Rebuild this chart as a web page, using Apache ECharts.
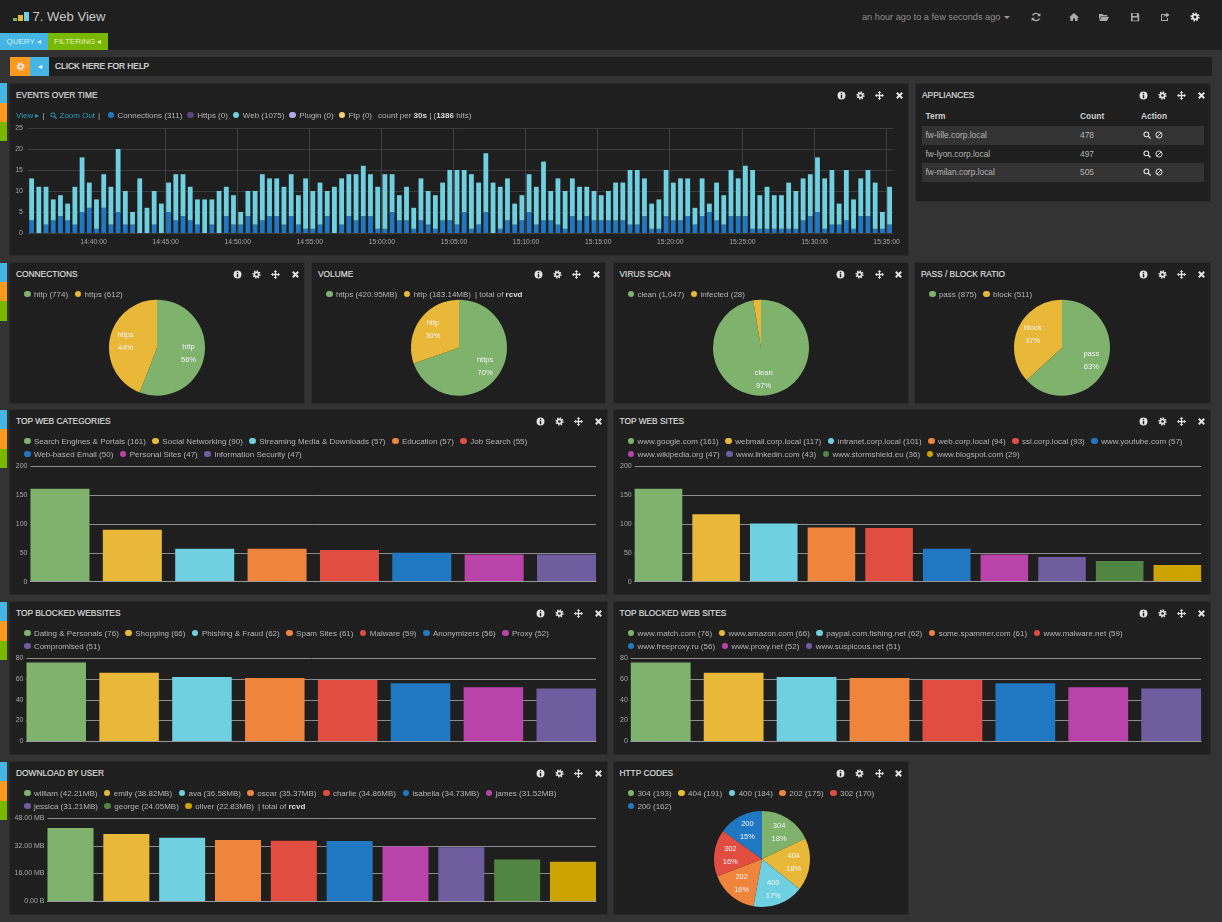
<!DOCTYPE html>
<html>
<head>
<meta charset="utf-8">
<title>7. Web View</title>
<script src="https://cdn.jsdelivr.net/npm/echarts@6/dist/echarts.min.js"></script>
<style>
html, body { margin: 0; padding: 0; width: 1222px; height: 922px; overflow: hidden; background: #333; }
body { font-family: "Liberation Sans", Arial, sans-serif; color: #b4b4b4; font-size: 8px; position: relative; }
.abs { position: absolute; }
.panel { position: absolute; background: #1f1f1f; box-shadow: 0 0 0 1px #2b2b2b; }
.panel-title { position: absolute; left: 6px; top: 6px; line-height: 11px; font-size: 8.35px; color: #d8d8d8; -webkit-text-stroke: .2px #d8d8d8; white-space: nowrap; }
.panel-icons svg { position: absolute; top: 7px; width: 9px; height: 9px; }
.chart { position: absolute; left: 0; top: 0; right: 0; bottom: 0; }
.legend { position: absolute; left: 14px; right: 4px; top: 24.5px; display: flex; flex-wrap: wrap; line-height: 13px; white-space: nowrap; z-index: 2; }
.legend .item { margin-right: 6.5px; display: flex; align-items: center; }
.legend .suffix { margin-left: -2.5px; }
.legend i { display: inline-block; width: 6.5px; height: 6.5px; border-radius: 50%; margin-right: 3.4px; }
.legend b { color: #ddd; }
.row { position: absolute; left: 6px; width: 282px; height: 18.5px; line-height: 18.5px; font-size: 8.4px; }
.row span { position: absolute; top: 0; }
.row svg { position: absolute; top: 5px; width: 8px; height: 8px; }
.tab { position: absolute; width: 6.5px; height: 19.3px; left: 0; }
.nav-icon { position: absolute; top: 12px; width: 10px; height: 10px; }
</style>
</head>
<body>
<div class="abs" style="left:0;top:0;width:1222px;height:50px;background:#1f1f1f"></div>
<svg class="abs" style="left:13px;top:11px" width="17" height="11">
  <rect x="0" y="7" width="4" height="3" fill="#7eb26d"/>
  <rect x="5" y="4" width="5" height="6" fill="#eab839"/>
  <rect x="11" y="1" width="5" height="9" fill="#6ed0e0"/>
</svg>
<div class="abs" style="left:32.5px;top:9px;font-size:13.1px;line-height:16px;color:#c8c8c8">7. Web View</div>
<div class="abs" style="left:862px;top:11px;font-size:9.2px;line-height:13px;color:#8e8e8e;white-space:nowrap">an hour ago to a few seconds ago</div>
<svg class="abs" style="left:1004px;top:16px" width="6" height="3"><path d="M0 0H6L3 3Z" fill="#9a9a9a"/></svg>
<div id="navIcons"></div>
<div class="abs" style="left:0;top:32.5px;width:47.5px;height:17.5px;background:#45b5e3;color:#d4eef8;line-height:18px;font-size:8px"><span style="margin-left:6.5px">QUERY &#9666;</span></div>
<div class="abs" style="left:47.5px;top:32.5px;width:60px;height:17.5px;background:#7ab800;color:#e4f2c8;line-height:18px;font-size:8px"><span style="margin-left:6.5px">FILTERING &#9666;</span></div>

<div class="abs" style="left:10px;top:56.5px;width:1202px;height:19.5px;background:#1f1f1f"></div>
<div class="abs" id="helpGear" style="left:10px;top:56.5px;width:20px;height:19.5px;background:#ff9a1f"></div>
<div class="abs" style="left:30px;top:56.5px;width:19px;height:19.5px;background:#45b5e3;color:#fff;text-align:center;line-height:19px;font-size:8px">&#9666;</div>
<div class="abs" style="left:55px;top:61px;font-size:8.35px;-webkit-text-stroke:.2px #e0e0e0;line-height:11px;color:#e0e0e0">CLICK HERE FOR HELP</div>
<div id="page"></div>

<script>
// 颜色
var palette = ['#7EB26D', '#EAB839', '#6ED0E0', '#EF843C', '#E24D42', '#1F78C1', '#BA43A9', '#705DA0', '#508642', '#CCA300']

// 事件直方图
var eventSeriesNames = ['Connections', 'Https', 'Web', 'Plugin', 'Ftp']
var eventSeriesCounts = [311, 0, 1075, 0, 0]
var eventSeriesColors = ['#1F78C1', '#584477', '#6ED0E0', '#B7A6E3', '#F9D372']
var eventTickLabels = ['14:40:00', '14:45:00', '14:50:00', '14:55:00', '15:00:00', '15:05:00', '15:10:00', '15:15:00', '15:20:00', '15:25:00', '15:30:00', '15:35:00']
var eventConnections = [
    3, 0, 2, 3, 4, 3, 2, 5, 6, 1, 6, 2, 5, 2, 2, 0, 0, 2, 0, 5, 3, 4, 3, 2, 0, 2, 0, 4, 2, 2, 4, 2, 3, 4, 4, 2, 4, 2, 1,
    1, 2, 4, 0, 2, 4, 3, 4, 4, 1, 1, 5, 3, 3, 1, 3, 2, 1, 3, 3, 2, 5, 1, 2, 5, 0, 1, 3, 2, 3, 5, 2, 3, 3, 2, 1, 4, 3, 4, 3, 3, 3,
    3, 3, 2, 2, 4, 1, 1, 4, 3, 3, 4, 2, 4, 5, 3, 2, 4, 4, 4, 1, 1, 1, 1, 1, 1, 1, 3, 4, 5, 1, 2, 2, 3, 1, 4, 4, 1, 1, 2
]
var eventWeb = [
    10, 11, 9, 5, 5, 4, 9, 13, 6, 7, 8, 9, 15, 8, 3, 13, 6, 8, 7, 7, 11, 10, 8, 6, 8, 6, 10, 7, 7, 3, 6, 8, 11, 9, 9, 9, 10, 7, 12,
    9, 10, 6, 11, 11, 10, 11, 12, 10, 10, 13, 9, 6, 8, 5, 10, 8, 8, 9, 12, 13, 10, 13, 10, 14, 12, 10, 10, 5, 6, 9, 9, 14, 7, 11, 9, 9, 8, 7, 7, 6, 7,
    9, 9, 13, 13, 9, 6, 7, 11, 9, 10, 9, 4, 9, 2, 9, 7, 11, 9, 12, 14, 8, 10, 8, 8, 11, 9, 10, 10, 13, 12, 13, 5, 12, 7, 9, 11, 11, 4, 9
]

// 设备表
var applianceTerms = ['fw-lille.corp.local', 'fw-lyon.corp.local', 'fw-milan.corp.local']
var applianceCounts = [478, 497, 505]

// 饼图
var connectionNames = ['http', 'https']
var connectionCounts = [774, 612]
var volumeNames = ['https', 'http']
var volumeMB = [420.95, 183.14]
var virusNames = ['clean', 'infected']
var virusCounts = [1047, 28]
var passNames = ['pass', 'block']
var passCounts = [875, 511]
var httpCodeNames = ['304', '404', '400', '202', '302', '200']
var httpCodeCounts = [193, 191, 184, 175, 170, 162]

// 柱状图
var webCategoryNames = ['Search Engines & Portals', 'Social Networking', 'Streaming Media & Downloads', 'Education', 'Job Search', 'Web-based Email', 'Personal Sites', 'Information Security']
var webCategoryCounts = [161, 90, 57, 57, 55, 50, 47, 47]
var webSiteNames = ['www.google.com', 'webmail.corp.local', 'intranet.corp.local', 'web.corp.local', 'ssl.corp.local', 'www.youtube.com', 'www.wikipedia.org', 'www.linkedin.com', 'www.stormshield.eu', 'www.blogspot.com']
var webSiteCounts = [161, 117, 101, 94, 93, 57, 47, 43, 36, 29]
var blockedCategoryNames = ['Dating & Personals', 'Shopping', 'Phishing & Fraud', 'Spam Sites', 'Malware', 'Anonymizers', 'Proxy', 'Compromised']
var blockedCategoryCounts = [76, 66, 62, 61, 59, 56, 52, 51]
var blockedSiteNames = ['www.match.com', 'www.amazon.com', 'paypal.com.fishing.net', 'some.spammer.com', 'www.malware.net', 'www.freeproxy.ru', 'www.proxy.net', 'www.suspicous.net']
var blockedSiteCounts = [76, 66, 62, 61, 59, 56, 52, 51]
var userNames = ['william', 'emily', 'ava', 'oscar', 'charlie', 'isabella', 'james', 'jessica', 'george', 'oliver']
var userDownloadMB = [42.21, 38.82, 36.58, 35.37, 34.86, 34.73, 31.52, 31.21, 24.05, 22.83]

var fontName = 'Liberation Sans'
var page = document.getElementById('page')

var icons = {
    info: '<circle cx="5" cy="5" r="4.4" fill="#e4e4e4"/><rect x="4.2" y="2" width="1.6" height="1.5" fill="#1f1f1f"/><rect x="4.2" y="4.3" width="1.6" height="3.8" fill="#1f1f1f"/>',
    gear: '<circle cx="5" cy="5" r="3.6" fill="none" stroke="#e4e4e4" stroke-width="2" stroke-dasharray="1.4 1.4"/><circle cx="5" cy="5" r="2.4" fill="none" stroke="#e4e4e4" stroke-width="1.8"/>',
    move: '<path d="M5 0L7 2.2H5.7V4.3H7.8V3L10 5L7.8 7V5.7H5.7V7.8H7L5 10L3 7.8H4.3V5.7H2.2V7L0 5L2.2 3V4.3H4.3V2.2H3Z" fill="#e4e4e4"/>',
    close: '<path d="M2 2L8 8M8 2L2 8" stroke="#e4e4e4" stroke-width="2.2"/>',
    search: '<circle cx="4.2" cy="4.2" r="3" fill="none" stroke="#ddd" stroke-width="1.4"/><path d="M6.4 6.4L9.4 9.4" stroke="#ddd" stroke-width="1.7"/>',
    ban: '<circle cx="5" cy="5" r="3.9" fill="none" stroke="#ddd" stroke-width="1.2"/><path d="M2.4 7.6L7.6 2.4" stroke="#ddd" stroke-width="1.2"/>',
    refresh: '<path d="M8.6 3.6A4 4 0 0 0 1.5 3.4M1.4 6.4A4 4 0 0 0 8.5 6.6" fill="none" stroke="#aaa" stroke-width="1.4"/><path d="M9.4 0.9V4.2H6.2ZM0.6 9.1V5.8H3.8Z" fill="#aaa"/>',
    home: '<path d="M5 1L10 5.4H8.6V9H6V6.4H4V9H1.4V5.4H0Z" fill="#aaa"/>',
    folder: '<path d="M0 2H3.6L4.6 3H8.4V4.4H2L0 8ZM2.4 5H10L8 9H0.4Z" fill="#aaa"/>',
    save: '<path d="M1 1H8L9.2 2.2V9.2H1ZM2.6 1.6V4H6.8V1.6ZM2.6 5.6V8.4H7.6V5.6Z" fill="#aaa" fill-rule="evenodd"/>',
    share: '<path d="M1 2H5V3H2V8H7V6H8V9H1ZM6 0.6L9.6 3L6 5.4V4C5 4 4.2 4.4 3.6 5.4C3.7 3.6 4.6 2.4 6 2.2Z" fill="#aaa"/>'
}

function svg(name, style) {
    return '<svg viewBox="0 0 10 10" style="' + style + '">' + icons[name] + '</svg>'
}

function nav_init() {
    var places = { refresh: 1031, home: 1069, folder: 1099, save: 1130, share: 1160 }
    var html = ''
    for (var key in places) {
        html += '<div class="nav-icon" style="left:' + places[key] + 'px">' + svg(key, 'width:10px;height:10px;display:block') + '</div>'
    }
    html += '<div class="nav-icon" style="left:1190px">' + svg('gear', 'width:10px;height:10px;display:block') + '</div>'
    document.getElementById('navIcons').innerHTML = html
    document.getElementById('helpGear').innerHTML = svg('gear', 'position:absolute;left:5.5px;top:5px;width:9px;height:9px')
}

// 左侧三色标签
function side_tabs(top) {
    var colors = ['#45b5e3', '#ff9a1f', '#7ab800']
    colors.forEach(function(c, i) {
        var d = document.createElement('div')
        d.className = 'tab'
        d.style.top = (top + i * 19.3) + 'px'
        d.style.background = c
        page.appendChild(d)
    })
}

function make_panel(title, x, y, w, h) {
    var p = document.createElement('div')
    p.className = 'panel'
    p.style.cssText = 'left:' + x + 'px;top:' + y + 'px;width:' + w + 'px;height:' + h + 'px'
    var html = '<div class="panel-title">' + title + '</div><div class="panel-icons">'
    var names = ['info', 'gear', 'move', 'close']
    names.forEach(function(n, i) {
        html += svg(n, 'left:' + (w - 71.5 + i * 19.4) + 'px')
    })
    p.innerHTML = html + '</div>'
    page.appendChild(p)
    return { el: p, x: x, y: y, w: w, h: h }
}

function make_legend(panel, names, valueTexts, colors, suffix) {
    var d = document.createElement('div')
    d.className = 'legend'
    var html = ''
    names.forEach(function(n, i) {
        html += '<span class="item"><i style="background:' + colors[i] + '"></i>' + n.replace('&', '&amp;') + ' (' + valueTexts[i] + ')</span>'
    })
    if (suffix) html += '<span class="suffix">' + suffix + '</span>'
    d.innerHTML = html
    panel.el.appendChild(d)
}

function make_chart(panel) {
    var d = document.createElement('div')
    d.className = 'chart'
    panel.el.appendChild(d)
    return echarts.init(d, null, { width: panel.w, height: panel.h })
}

function counts_text(values) {
    return values.map(function(v) { return v.toLocaleString('en-US') })
}

function mb_text(values) {
    return values.map(function(v) { return v.toFixed(2) + 'MB' })
}

// 饼图：cx, cy 为页面坐标
function pie_panel(panel, names, values, texts, cx, cy, suffix) {
    make_legend(panel, names, texts, palette, suffix)
    var total = values.reduce(function(a, b) { return a + b }, 0)
    var px = cx - panel.x, py = cy - panel.y
    var labelRadius = 32
    var chart = make_chart(panel)
    chart.setOption({
        animation: false,
        series: [{
            type: 'pie',
            center: [px, py],
            radius: 48,
            startAngle: 90,
            percentPrecision: 0,
            color: palette,
            label: {
                position: 'inside',
                color: '#f4f4f4',
                fontFamily: fontName,
                fontSize: 7.5,
                lineHeight: 13,
                formatter: '{b}\n{d}%'
            },
            labelLine: { show: false },
            // 标签放在 2/3 半径处
            labelLayout: function(p) {
                var r = p.labelRect
                var rx = r.x + r.width / 2 - px
                var ry = r.y + r.height / 2 - py
                var k = labelRadius / Math.sqrt(rx * rx + ry * ry) - 1
                return { dx: rx * k, dy: ry * k }
            },
            data: names.map(function(n, i) {
                return { name: n, value: values[i], label: { show: values[i] / total > 0.05 } }
            })
        }]
    })
}

// 柱状图：首尾柱贴齐绘图区，坐标为页面坐标
function bar_panel(panel, names, values, texts, box, suffix, yFormatter) {
    make_legend(panel, names, texts, palette, suffix)
    var half = box.barWidth / 2 / box.step
    var chart = make_chart(panel)
    chart.setOption({
        animation: false,
        grid: {
            outerBoundsMode: 'none',
            left: box.left - panel.x,
            top: box.top - panel.y,
            width: box.right - box.left,
            height: box.bottom - box.top
        },
        xAxis: {
            type: 'value',
            min: -half,
            max: names.length - 1 + half,
            z: 3,
            axisLabel: { show: false },
            axisTick: { show: false },
            splitLine: { show: false },
            axisLine: { show: true, onZero: false, lineStyle: { color: '#999', width: 1 } }
        },
        yAxis: {
            type: 'value',
            min: 0,
            max: box.max,
            interval: box.interval,
            axisLine: { show: false },
            axisTick: { show: false },
            axisLabel: { color: '#a8a8a8', fontFamily: fontName, fontSize: 7, margin: box.labelGap, formatter: yFormatter },
            splitLine: { lineStyle: { color: '#8c8c8c', width: 1 } }
        },
        series: [{
            type: 'bar',
            barWidth: box.barWidth,
            data: names.map(function(n, i) {
                return { name: n, value: [i, values[i]], itemStyle: { color: palette[i] } }
            })
        }]
    })
}

// 30 秒一桶
function time_buckets() {
    var list = []
    var sec = 14 * 3600 + 35 * 60 + 30
    for (var i = 0; i < eventWeb.length; i++) {
        var h = Math.floor(sec / 3600), m = Math.floor(sec / 60) % 60, s = sec % 60
        list.push(h + ':' + (m < 10 ? '0' : '') + m + ':' + (s < 10 ? '0' : '') + s)
        sec += 30
    }
    return list
}

function events_panel() {
    var panel = make_panel('EVENTS OVER TIME', 10, 84, 898, 171)
    var legend = document.createElement('div')
    legend.className = 'legend'
    legend.style.left = '6px'
    var html = '<span style="color:#2b9bbd;margin-right:3px">View &#9656;</span><span style="margin-right:5px">|</span>' +
        svg('search', 'width:7px;height:7px;margin:3px 3px 0 0').replace(/#ddd/g, '#2b9bbd') +
        '<span style="color:#2b9bbd;margin-right:3px">Zoom Out</span><span style="margin-right:7.5px">|</span>'
    eventSeriesNames.forEach(function(n, i) {
        html += '<span class="item" style="margin-right:5px"><i style="background:' + eventSeriesColors[i] + '"></i>' + n + ' (' + eventSeriesCounts[i] + ')</span>'
    })
    html += '<span style="margin-left:1px">count per <b>30s</b> | (<b>1386</b> hits)</span>'
    legend.innerHTML = html
    panel.el.appendChild(legend)

    var isTick = function(i, v) { return eventTickLabels.indexOf(v) >= 0 }
    var chart = make_chart(panel)
    chart.setOption({
        animation: false,
        grid: { outerBoundsMode: 'none', left: 18, top: 44, width: 865.2, height: 105 },
        xAxis: {
            type: 'category',
            data: time_buckets(),
            axisLine: { lineStyle: { color: '#3c3c3c' } },
            axisTick: { show: false },
            axisLabel: { interval: isTick, color: '#a8a8a8', fontFamily: fontName, fontSize: 6.8, margin: 6, padding: [0, 6, 0, 0], hideOverlap: false },
            splitLine: { show: true, interval: isTick, showMinLine: false, showMaxLine: false, lineStyle: { color: '#404040', width: 1 } }
        },
        yAxis: {
            type: 'value',
            min: 0,
            max: 25,
            interval: 5,
            axisLine: { show: false },
            axisTick: { show: false },
            axisLabel: { color: '#a8a8a8', fontFamily: fontName, fontSize: 7, margin: 5 },
            splitLine: { lineStyle: { color: '#3c3c3c', width: 1 } }
        },
        series: [
            { name: 'Connections', type: 'bar', stack: 'events', barWidth: 4.8, itemStyle: { color: eventSeriesColors[0] }, data: eventConnections },
            { name: 'Web', type: 'bar', stack: 'events', barWidth: 4.8, itemStyle: { color: eventSeriesColors[2] }, data: eventWeb }
        ]
    })
}

function appliances_panel() {
    var panel = make_panel('APPLIANCES', 916, 84, 294, 117)
    var head = 'font-weight:bold;color:#ccc;line-height:11px;font-size:8.4px'
    var html = '<div class="abs" style="left:9.5px;top:27px;' + head + '">Term</div>' +
        '<div class="abs" style="left:164px;top:27px;' + head + '">Count</div>' +
        '<div class="abs" style="left:225px;top:27px;' + head + '">Action</div>'
    applianceTerms.forEach(function(t, i) {
        html += '<div class="row" style="top:' + (42 + i * 18.5) + 'px;background:' + (i % 2 === 0 ? '#333' : 'transparent') + '">' +
            '<span style="left:3.5px">' + t + '</span><span style="left:158px">' + applianceCounts[i] + '</span>' +
            svg('search', 'left:221px') + svg('ban', 'left:233px') + '</div>'
    })
    panel.el.insertAdjacentHTML('beforeend', html)
}

function chart_init() {
    nav_init()
    var tabTops = [83.3, 262.7, 410, 602, 762]
    tabTops.forEach(side_tabs)

    events_panel()
    appliances_panel()

    var rcvd = '| total of <b>rcvd</b>'
    pie_panel(make_panel('CONNECTIONS', 10, 263, 294, 140), connectionNames, connectionCounts, counts_text(connectionCounts), 157, 347.7)
    pie_panel(make_panel('VOLUME', 312, 263, 293, 140), volumeNames, volumeMB, mb_text(volumeMB), 459, 347.7, rcvd)
    pie_panel(make_panel('VIRUS SCAN', 613.5, 263, 294, 140), virusNames, virusCounts, counts_text(virusCounts), 760.5, 347.7)
    pie_panel(make_panel('PASS / BLOCK RATIO', 915, 263, 295, 140), passNames, passCounts, counts_text(passCounts), 1062, 347.7)

    bar_panel(make_panel('TOP WEB CATEGORIES', 10, 410, 597, 184), webCategoryNames, webCategoryCounts, counts_text(webCategoryCounts),
        { left: 30.5, right: 596, top: 466.3, bottom: 581.7, max: 200, interval: 50, barWidth: 59, step: 72.4, labelGap: 3 })
    bar_panel(make_panel('TOP WEB SITES', 613.5, 410, 596.5, 184), webSiteNames, webSiteCounts, counts_text(webSiteCounts),
        { left: 634.2, right: 1200.6, top: 466.3, bottom: 581.7, max: 200, interval: 50, barWidth: 47.6, step: 57.7, labelGap: 3 })
    bar_panel(make_panel('TOP BLOCKED WEBSITES', 10, 602, 597, 152), blockedCategoryNames, blockedCategoryCounts, counts_text(blockedCategoryCounts),
        { left: 26.5, right: 596, top: 658.3, bottom: 741.3, max: 80, interval: 20, barWidth: 59.5, step: 72.9, labelGap: 3 })
    bar_panel(make_panel('TOP BLOCKED WEB SITES', 613.5, 602, 596.5, 152), blockedSiteNames, blockedSiteCounts, counts_text(blockedSiteCounts),
        { left: 630.3, right: 1200.6, top: 658.3, bottom: 741.3, max: 80, interval: 20, barWidth: 59.8, step: 72.9, labelGap: 3 })
    bar_panel(make_panel('DOWNLOAD BY USER', 10, 762, 597, 152), userNames, userDownloadMB, mb_text(userDownloadMB),
        { left: 47.5, right: 596, top: 818, bottom: 901.3, max: 48, interval: 16, barWidth: 46, step: 55.8, labelGap: 3 }, rcvd,
        function(v) { return v === 0 ? '0.00 B' : v.toFixed(2) + ' MB' })
    pie_panel(make_panel('HTTP CODES', 613.5, 762, 294, 152), httpCodeNames, httpCodeCounts, counts_text(httpCodeCounts), 761.5, 859)
}
chart_init()
</script>
</body>
</html>
